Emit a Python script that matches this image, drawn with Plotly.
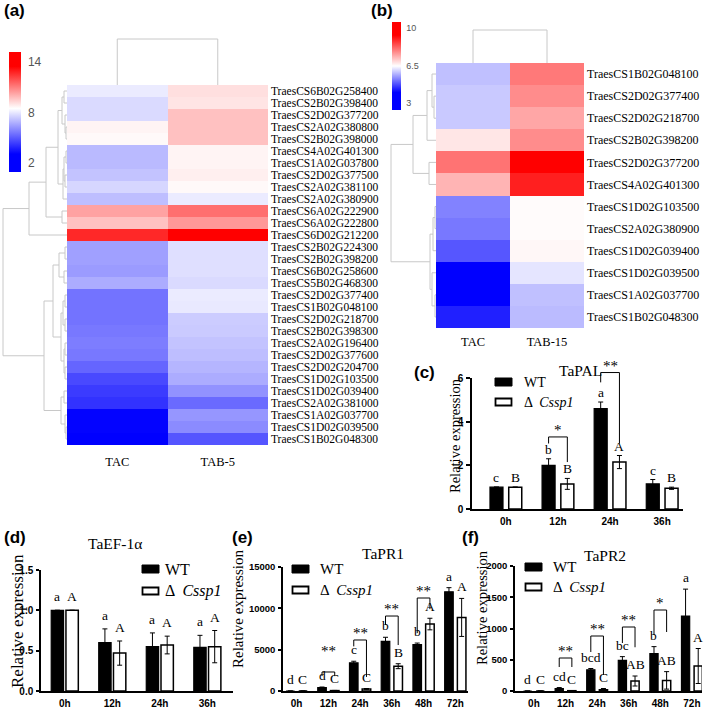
import plotly.graph_objects as go

W, H = 709, 708
def fx(p): return p / W
def fy(p): return 1 - p / H

SERIF = "Liberation Serif"
SANS = "Liberation Sans"

# ---------------- heatmap data ----------------
genes_a = ["TraesCS6B02G258400", "TraesCS2B02G398400", "TraesCS2D02G377200", "TraesCS2A02G380800",
           "TraesCS2B02G398000", "TraesCS4A02G401300", "TraesCS1A02G037800", "TraesCS2D02G377500",
           "TraesCS2A02G381100", "TraesCS2A02G380900", "TraesCS6A02G222900", "TraesCS6A02G222800",
           "TraesCS6D02G212200", "TraesCS2B02G224300", "TraesCS2B02G398200", "TraesCS6B02G258600",
           "TraesCS5B02G468300", "TraesCS2D02G377400", "TraesCS1B02G048100", "TraesCS2D02G218700",
           "TraesCS2B02G398300", "TraesCS2A02G196400", "TraesCS2D02G377600", "TraesCS2D02G204700",
           "TraesCS1D02G103500", "TraesCS1D02G039400", "TraesCS2A02G381000", "TraesCS1A02G037700",
           "TraesCS1D02G039500", "TraesCS1B02G048300"]
cols_a = ["TAC", "TAB-5"]
tac_a = [8.05, 7.7, 7.7, 8.7, 8.6, 7.0, 7.0, 7.2, 7.6, 7.1, 10.3, 9.7, 12.7, 6.45, 6.45,
         6.35, 6.7, 5.5, 5.5, 5.5, 5.6, 5.7, 5.6, 5.2, 4.6, 4.3, 4.1, 3.1, 3.1, 2.5]
tab5_a = [9.1, 9.0, 9.7, 9.7, 9.7, 8.7, 8.7, 8.8, 8.6, 8.05, 11.3, 10.5, 14.0, 7.8, 7.8,
          7.8, 7.7, 8.05, 8.0, 7.4, 7.35, 7.2, 7.1, 6.9, 6.7, 6.15, 5.3, 6.25, 6.0, 4.85]

genes_b = ["TraesCS1B02G048100", "TraesCS2D02G377400", "TraesCS2D02G218700", "TraesCS2B02G398200",
           "TraesCS2D02G377200", "TraesCS4A02G401300", "TraesCS1D02G103500", "TraesCS2A02G380900",
           "TraesCS1D02G039400", "TraesCS1D02G039500", "TraesCS1A02G037700", "TraesCS1B02G048300"]
cols_b = ["TAC", "TAB-15"]
tac_b = [5.85, 5.93, 5.93, 6.74, 8.03, 7.3, 5.25, 5.15, 4.82, 3.5, 3.5, 4.3]
tab15_b = [7.97, 7.75, 7.46, 7.75, 9.5, 8.98, 6.5, 6.5, 6.55, 6.2, 5.85, 5.8]

# dendrogram trees: (left, right, merge height); leaves are row indices
tree_a = ((((((0, 1, 3), (2, (3, 4, 1), 2), 5),
             ((((5, 6, 1), (7, 8, 2), 3), 9, 4)), 9),
            (10, 11, 5), 21), 12, 38),
          ((((13, 14, 2), (15, 16, 3), 8),
            (((17, 18, 2), (19, 20, 2), 4), ((21, 22, 2), (23, 24, 2), 3), 6), 14),
           ((25, 26, 3), (27, (28, 29, 1), 2), 6), 23), 64)
tree_b = ((((0, (1, 2, 2), 4), 3, 9), (4, 5, 7), 23),
          (((6, 7, 1), 8, 3), (9, (10, 11, 1), 4), 6), 45)
col_tree = (0, 1, 1.0)

# ---------------- bar data ----------------
times4 = ["0h", "12h", "24h", "36h"]
times6 = ["0h", "12h", "24h", "36h", "48h", "72h"]

pal_wt = [1.0, 2.0, 4.6, 1.15]
pal_wt_err = [0.0, 0.3, 0.3, 0.2]
pal_mu = [1.0, 1.15, 2.15, 0.95]
pal_mu_err = [0.0, 0.25, 0.3, 0.05]
pal_wt_let = ["c", "b", "a", "c"]
pal_mu_let = ["B", "B", "A", "B"]
pal_sig = [(1, 3.0, 3.3, 2.15, "*", 3.3), (2, 5.8, 6.25, 3.0, "**", 6.25)]

ef_wt = [1.0, 0.6, 0.55, 0.54]
ef_wt_err = [0.0, 0.17, 0.17, 0.15]
ef_mu = [1.0, 0.47, 0.57, 0.55]
ef_mu_err = [0.0, 0.15, 0.11, 0.2]
ef_wt_let = ["a", "a", "a", "a"]
ef_mu_let = ["A", "A", "A", "A"]
ef_sig = []

pr1_wt = [0, 400, 3400, 6000, 5600, 12000]
pr1_wt_err = [0, 80, 200, 500, 200, 500]
pr1_mu = [0, 50, 250, 3000, 8100, 8900]
pr1_mu_err = [0, 20, 50, 300, 700, 2300]
pr1_wt_let = ["d", "d", "c", "b", "b", "a"]
pr1_mu_let = ["C", "C", "C", "B", "A", "A"]
pr1_sig = [(1, 1800, 2300, 1800, "**", 4000), (2, 5400, 6170, 1700, "**", 6170),
           (3, 8000, 9070, 5560, "**", 9070), (4, 7000, 11250, 9900, "**", 11250)]

pr2_wt = [0, 40, 340, 490, 600, 1200]
pr2_wt_err = [0, 15, 20, 60, 110, 430]
pr2_mu = [0, 5, 20, 160, 170, 400]
pr2_mu_err = [0, 3, 20, 80, 140, 280]
pr2_wt_let = ["d", "cd", "bcd", "bc", "b", "a"]
pr2_mu_let = ["C", "C", "C", "AB", "AB", "A"]
pr2_sig = [(1, 384, 528, 384, "**", 528), (2, 624, 880, 256, "**", 880),
           (3, 768, 1024, 700, "**", 1024), (4, 900, 1296, 944, "*", 1296)]

# ---------------- figure ----------------
fig = go.Figure()
layout = {}
annotations = []
shapes = []

def nm(n):
    return "" if n == 1 else str(n)

def dendro(node, hs, ps):
    if isinstance(node, int):
        return float(node), 0.0
    a, b, h = node
    pa, ha = dendro(a, hs, ps)
    pb, hb = dendro(b, hs, ps)
    hs += [ha, h, h, hb, None]
    ps += [pa, pa, pb, pb, None]
    return (pa + pb) / 2, h

DCOL = "#c8c8c8"

def heat_panel(n, genes, cols, c1, c2, box, cs, zr, cbar, row_font, col_standoff):
    x0, x1, y0, y1 = box
    z = [[a, b] for a, b in zip(c1, c2)]
    fig.add_trace(go.Heatmap(z=z, x=cols, y=genes, colorscale=cs, zmin=zr[0], zmax=zr[1],
                             xaxis="x" + nm(n), yaxis="y" + nm(n), colorbar=cbar, hoverinfo="skip"))
    layout["xaxis" + nm(n)] = dict(domain=[fx(x0), fx(x1)], anchor="y" + nm(n), showgrid=False,
                                   zeroline=False, ticks="", showline=False, automargin=False,
                                   tickfont=dict(family=SERIF, size=12.5, color="black"),
                                   ticklabelstandoff=col_standoff)
    layout["yaxis" + nm(n)] = dict(domain=[fy(y1), fy(y0)], anchor="x" + nm(n), showgrid=False,
                                   zeroline=False, ticks="", side="right", autorange="reversed",
                                   tickmode="array", tickvals=genes, ticktext=genes, automargin=False,
                                   tickfont=dict(family=SERIF, size=row_font, color="black"),
                                   ticklabelstandoff=2)

def left_dendro(n, tree, nrows, box, hmax):
    x0, x1, y0, y1 = box
    hs, ps = [], []
    dendro(tree, hs, ps)
    fig.add_trace(go.Scatter(x=hs, y=ps, mode="lines", line=dict(color=DCOL, width=1),
                             xaxis="x" + nm(n), yaxis="y" + nm(n), cliponaxis=False, hoverinfo="skip"))
    layout["xaxis" + nm(n)] = dict(domain=[fx(x0), fx(x1)], anchor="y" + nm(n), range=[hmax, 0],
                                   visible=False, automargin=False)
    layout["yaxis" + nm(n)] = dict(domain=[fy(y1), fy(y0)], anchor="x" + nm(n),
                                   range=[nrows - 0.5, -0.5], visible=False, automargin=False)

def top_dendro(n, tree, box):
    x0, x1, y0, y1 = box
    hs, ps = [], []
    dendro(tree, hs, ps)
    fig.add_trace(go.Scatter(x=ps, y=hs, mode="lines", line=dict(color=DCOL, width=1),
                             xaxis="x" + nm(n), yaxis="y" + nm(n), cliponaxis=False, hoverinfo="skip"))
    layout["xaxis" + nm(n)] = dict(domain=[fx(x0), fx(x1)], anchor="y" + nm(n), range=[-0.5, 1.5],
                                   visible=False, automargin=False)
    layout["yaxis" + nm(n)] = dict(domain=[fy(y1 + 1), fy(y0 - 1)], anchor="x" + nm(n),
                                   range=[-1 / (y1 - y0), 1 + 1 / (y1 - y0)],
                                   visible=False, automargin=False)

# panel a
cs_a = [[0, "rgb(0,0,255)"], [0.15, "rgb(0,0,255)"], [0.53, "rgb(255,255,255)"],
        [0.88, "rgb(255,0,0)"], [1, "rgb(255,0,0)"]]
cbar_a = dict(x=fx(9), xanchor="left", y=fy(52), yanchor="top", len=120, lenmode="pixels",
              thickness=12, thicknessmode="pixels", xpad=0, ypad=0, outlinewidth=0,
              tickvals=[2, 8, 14], ticks="outside", ticklen=5, tickcolor="rgba(0,0,0,0)",
              tickfont=dict(family=SANS, size=12, color="#555"))
heat_panel(1, genes_a, cols_a, tac_a, tab5_a, (67, 268, 85, 445), cs_a, (0.9, 15.2), cbar_a, 11.5, 7)
left_dendro(2, tree_a, len(genes_a), (1, 67, 85, 445), 66)
top_dendro(3, col_tree, (67, 268, 39, 85))

# panel b
cs_b = [[0, "rgb(0,0,255)"], [0.2, "rgb(0,0,255)"], [0.5, "rgb(255,255,255)"],
        [0.85, "rgb(255,0,0)"], [1, "rgb(255,0,0)"]]
cbar_b = dict(x=fx(392), xanchor="left", y=fy(22), yanchor="top", len=88, lenmode="pixels",
              thickness=9, thicknessmode="pixels", xpad=0, ypad=0, outlinewidth=0,
              tickvals=[3, 6.5, 10], ticks="outside", ticklen=4, tickcolor="rgba(0,0,0,0)",
              tickfont=dict(family=SANS, size=9, color="#555"))
heat_panel(4, genes_b, cols_b, tac_b, tab15_b, (436, 584, 63, 328), cs_b, (2.35, 10.56), cbar_b, 12, 4)
left_dendro(5, tree_b, len(genes_b), (389, 436, 63, 328), 47)
top_dendro(6, col_tree, (436, 584, 30, 63))

# bar panels
EXT = 45  # px of extra headroom for the overlay axis carrying letters / brackets

def bar_panel(n, times, wt, wte, mu, mue, wl, ml, sig, box, xr, yr, ytick, off, width,
              fmt="d", let_shift=2, tick_size=10, ticklen=4):
    x0, x1, y0, y1 = box
    xa, ya = "x" + nm(n), "y" + nm(n)
    m = n + 10
    oxa, oya = "x" + nm(m), "y" + nm(m)
    per_px = (yr[1] - yr[0]) / (y1 - y0)
    xs = list(range(len(times)))
    fig.add_trace(go.Bar(x=[i - off for i in xs], y=wt, width=width, xaxis=xa, yaxis=ya,
                         marker=dict(color="black", line=dict(color="black", width=1.2)),
                         error_y=dict(type="data", array=wte, color="black", thickness=1, width=2.5),
                         hoverinfo="skip"))
    fig.add_trace(go.Bar(x=[i + off for i in xs], y=mu, width=width, xaxis=xa, yaxis=ya,
                         marker=dict(color="white", line=dict(color="black", width=1.5)),
                         error_y=dict(type="data", array=mue, color="black", thickness=1, width=2.5),
                         hoverinfo="skip"))
    for i in xs:
        annotations.append(dict(x=i - off, y=wt[i] + wte[i], xref=oxa, yref=oya, text=wl[i],
                                showarrow=False, yanchor="bottom", yshift=let_shift,
                                font=dict(family=SERIF, size=13.5, color="black")))
        annotations.append(dict(x=i + off, y=mu[i] + mue[i], xref=oxa, yref=oya, text=ml[i],
                                showarrow=False, yanchor="bottom", yshift=let_shift,
                                font=dict(family=SERIF, size=13.5, color="black")))
    bx, by = [], []
    for (i, yl, yt, yrr, star, sy) in sig:
        bx += [i - off, i - off, i + off, i + off, None]
        by += [yl, yt, yt, yrr, None]
        annotations.append(dict(x=i, y=sy, xref=oxa, yref=oya, text=star, showarrow=False,
                                yanchor="bottom", yshift=-3,
                                font=dict(family=SERIF, size=15, color="black")))
    fig.add_trace(go.Scatter(x=bx if bx else [None], y=by if by else [None], mode="lines",
                             line=dict(color="black", width=1),
                             xaxis=oxa, yaxis=oya, cliponaxis=False, hoverinfo="skip"))
    tf = dict(family=SANS, size=tick_size, color="black", weight="bold")
    layout["xaxis" + nm(n)] = dict(domain=[fx(x0), fx(x1)], anchor=ya, range=xr, showgrid=False,
                                   zeroline=False, showline=True, linecolor="black", linewidth=1.5,
                                   ticks="", tickmode="array", tickvals=xs, ticktext=times,
                                   tickfont=dict(family=SANS, size=10, color="black", weight="bold"),
                                   ticklabelstandoff=2, automargin=False)
    layout["yaxis" + nm(n)] = dict(domain=[fy(y1), fy(y0)], anchor=xa, range=yr, showgrid=False,
                                   zeroline=False, showline=True, linecolor="black", linewidth=1.5,
                                   ticks="outside", ticklen=ticklen, tickwidth=1.5, tickcolor="black",
                                   tickmode="array", tickvals=ytick, tickfont=tf, tickformat=fmt,
                                   exponentformat="none", separatethousands=False,
                                   automargin=False, ticklabelstandoff=1)
    # invisible overlay axes: same scale, extended upward
    layout["xaxis" + nm(m)] = dict(domain=[fx(x0), fx(x1)], anchor=oya, range=xr,
                                   visible=False, automargin=False)
    layout["yaxis" + nm(m)] = dict(domain=[fy(y1), fy(y0 - EXT)], anchor=oxa,
                                   range=[yr[0], yr[1] + EXT * per_px], visible=False, automargin=False)

bar_panel(7, times4, pal_wt, pal_wt_err, pal_mu, pal_mu_err, pal_wt_let, pal_mu_let, pal_sig,
          (472, 683, 378, 509), [-0.65, 3.4], [0, 6], [0, 2, 4, 6], 0.18, 0.25, let_shift=0)
bar_panel(8, times4, ef_wt, ef_wt_err, ef_mu, ef_mu_err, ef_wt_let, ef_mu_let, ef_sig,
          (41, 233, 570, 691), [-0.5, 3.54], [0, 1.5], [0, 0.5, 1.0, 1.5], 0.155, 0.26,
          fmt=".1f", let_shift=4, ticklen=3)
bar_panel(9, times6, pr1_wt, pr1_wt_err, pr1_mu, pr1_mu_err, pr1_wt_let, pr1_mu_let, pr1_sig,
          (283, 468, 567, 691), [-0.43, 5.4], [0, 15000], [0, 5000, 10000, 15000], 0.2, 0.27,
          tick_size=9.5, ticklen=3)
bar_panel(10, times6, pr2_wt, pr2_wt_err, pr2_mu, pr2_mu_err, pr2_wt_let, pr2_mu_let, pr2_sig,
          (515, 702, 566, 691), [-0.6, 5.32], [0, 2000], [0, 500, 1000, 1500, 2000], 0.2, 0.26,
          tick_size=9.5, ticklen=3)

# y titles, chart titles
for (cx, cy, sz) in [(455, 436, 14.5), (17, 621, 17), (238, 609, 15), (482, 608, 14.5)]:
    annotations.append(dict(x=fx(cx), y=fy(cy), xref="paper", yref="paper", text="Relative expression",
                            textangle=-90, showarrow=False, xanchor="center", yanchor="middle",
                            font=dict(family=SERIF, size=sz, color="black")))
for (t, cx, cy) in [("TaPAL", 580, 370), ("TaEF-1α", 115, 543), ("TaPR1", 383, 553), ("TaPR2", 605, 555)]:
    annotations.append(dict(x=fx(cx), y=fy(cy), xref="paper", yref="paper", text=t, showarrow=False,
                            xanchor="center", yanchor="middle", font=dict(family=SERIF, size=15.5, color="black")))

# legends
for (lx, ly1, ly2, tx, sz) in [(495, 382, 402, 522, 14), (142, 569, 591, 163, 16),
                               (292, 569, 590, 318, 15), (525, 567, 587, 551, 15)]:
    shapes.append(dict(type="rect", xref="paper", yref="paper", x0=fx(lx), x1=fx(lx + 17),
                       y0=fy(ly1 + 4), y1=fy(ly1 - 4), fillcolor="black", line=dict(color="black", width=1)))
    shapes.append(dict(type="rect", xref="paper", yref="paper", x0=fx(lx + 0.5), x1=fx(lx + 16.5),
                       y0=fy(ly2 + 3.5), y1=fy(ly2 - 3.5), fillcolor="white", line=dict(color="black", width=1.8)))
    annotations.append(dict(x=fx(tx), y=fy(ly1), xref="paper", yref="paper", text="WT", showarrow=False,
                            xanchor="left", yanchor="middle", font=dict(family=SERIF, size=sz, color="black")))
    annotations.append(dict(x=fx(tx), y=fy(ly2), xref="paper", yref="paper", text="Δ  <i>Cssp1</i>",
                            showarrow=False, xanchor="left", yanchor="middle",
                            font=dict(family=SERIF, size=sz, color="black")))

# panel labels
for (t, lx, ly) in [("(a)", 2, 10), ("(b)", 369, 10), ("(c)", 412, 372),
                    ("(d)", 2, 537), ("(e)", 230, 537), ("(f)", 460, 537)]:
    annotations.append(dict(x=fx(lx), y=fy(ly), xref="paper", yref="paper", text="<b>" + t + "</b>",
                            showarrow=False, xanchor="left", yanchor="middle",
                            font=dict(family=SANS, size=17, color="black")))

fig.update_layout(**layout)
fig.update_layout(template="none", width=W, height=H,
                  margin=dict(l=0, r=0, t=0, b=0, pad=0, autoexpand=False),
                  paper_bgcolor="white", plot_bgcolor="rgba(0,0,0,0)", showlegend=False,
                  barmode="overlay", annotations=annotations, shapes=shapes)
fig.write_html("out.html", config={"displayModeBar": False},
               post_script="document.body.style.margin='0';")
